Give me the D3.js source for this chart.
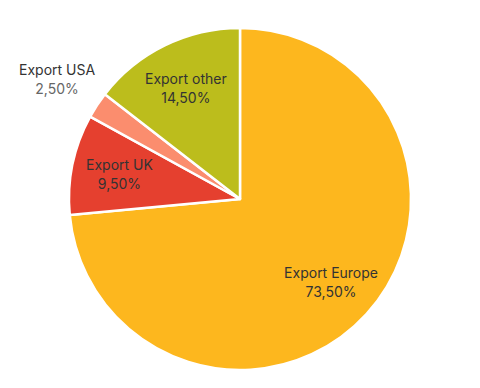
<!DOCTYPE html>
<html>
<head>
<meta charset="utf-8">
<script src="https://cdn.jsdelivr.net/npm/d3@7"></script>
<style>
  body { margin: 0; background: #fff; }
  svg text { font-family: Inter, "Noto Sans", sans-serif; font-size: 14px; }
</style>
</head>
<body>
<div id="container"></div>
<script>
let w = 480;
let h = 388;

// data
let categories = ["Export Europe", "Export UK", "Export USA", "Export other"];
let values = [73.5, 9.5, 2.5, 14.5];
let colors = ["#fdb71e", "#e5402f", "#fb8d6e", "#bcbd1c"];
let outsideLabels = ["Export USA"];

let radius = 171;
let cx = 240;
let cy = 199;

let viz = d3.select("#container")
  .append("svg")
    .attr("width", w)
    .attr("height", h);

let g = viz.append("g").attr("transform", `translate(${cx},${cy})`);

let pie = d3.pie().sort(null).value(d => d.value);
let data = categories.map((c, i) => ({ name: c, value: values[i], color: colors[i] }));
let arcs = pie(data);

let arc = d3.arc().innerRadius(0).outerRadius(radius);
let labelArc = d3.arc().innerRadius(radius * 0.72).outerRadius(radius * 0.72);
let outerArc = d3.arc().innerRadius(radius * 1.28).outerRadius(radius * 1.28);

g.selectAll("path.slice")
  .data(arcs)
  .enter()
  .append("path")
    .attr("class", "slice")
    .attr("d", arc)
    .attr("fill", d => d.data.color)
    .attr("stroke", "#fff")
    .attr("stroke-width", 2.5)
    .attr("stroke-linejoin", "round");

let fmt = v => v.toFixed(2).replace(".", ",") + "%";

let labels = g.selectAll("g.label")
  .data(arcs)
  .enter()
  .append("g")
    .attr("class", "label")
    .attr("transform", d => {
      let outside = outsideLabels.includes(d.data.name);
      let p = outside ? outerArc.centroid(d) : labelArc.centroid(d);
      return `translate(${p[0]},${p[1]})`;
    });

labels.append("text")
  .attr("text-anchor", "middle")
  .attr("y", -4)
  .attr("fill", "#333")
  .text(d => d.data.name);

labels.append("text")
  .attr("text-anchor", "middle")
  .attr("y", 15)
  .attr("fill", d => outsideLabels.includes(d.data.name) ? "#666" : "#333")
  .text(d => fmt(d.data.value));
</script>
</body>
</html>
